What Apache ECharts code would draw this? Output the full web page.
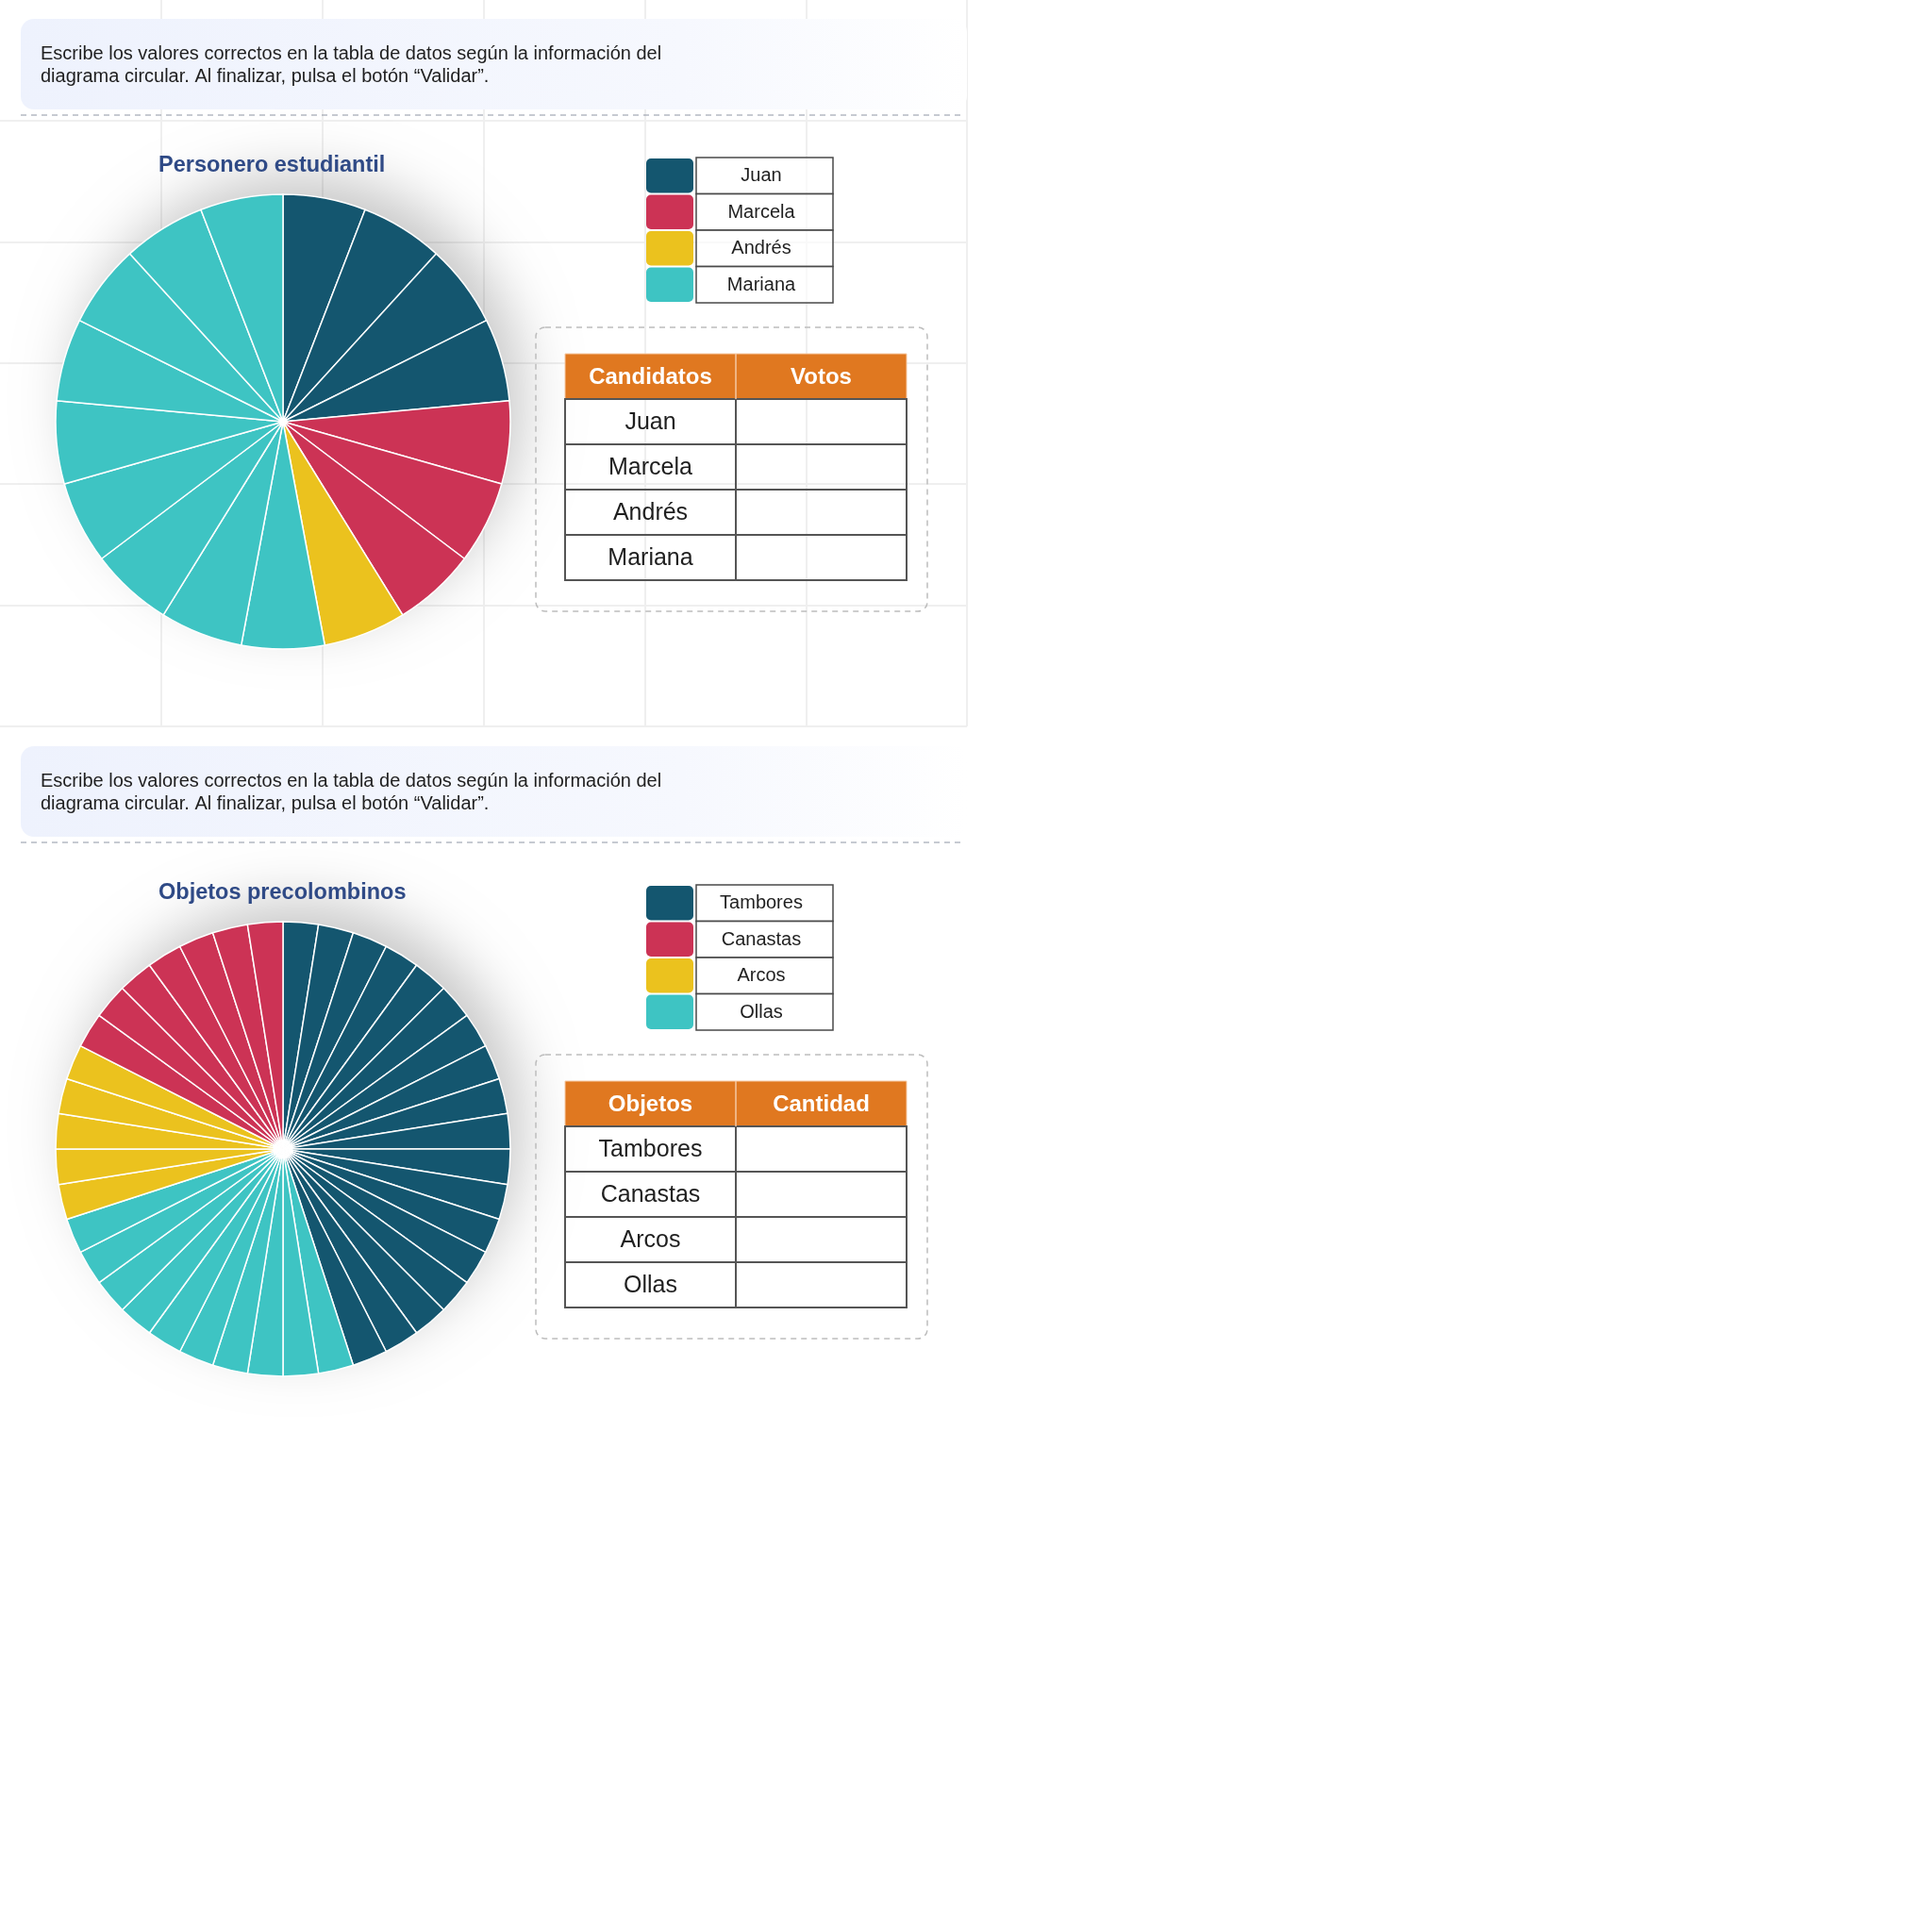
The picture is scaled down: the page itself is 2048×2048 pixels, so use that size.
<!DOCTYPE html>
<html>
<head>
<meta charset="utf-8">
<script src="https://cdn.jsdelivr.net/npm/echarts@6/dist/echarts.min.js"></script>
<style>
  html, body { margin: 0; padding: 0; background: #ffffff; }
  #chart { width: 2048px; height: 2048px; }
</style>
</head>
<body>
<div id="chart"></div>
<script>
// ---------- data ----------
const instructionLines = [
  'Escribe los valores correctos en la tabla de datos según la información del',
  'diagrama circular. Al finalizar, pulsa el botón “Validar”.'
];
const pie1Title = 'Personero estudiantil';
const pie1Categories = ['Juan', 'Marcela', 'Andrés', 'Mariana'];
const pie1Counts = [4, 3, 1, 9];
const pie1SliceOrder = ['Juan', 'Marcela', 'Andrés', 'Mariana'];
const table1Headers = ['Candidatos', 'Votos'];

const pie2Title = 'Objetos precolombinos';
const pie2Categories = ['Tambores', 'Canastas', 'Arcos', 'Ollas'];
const pie2Counts = [18, 7, 5, 10];
const pie2SliceOrder = ['Tambores', 'Ollas', 'Arcos', 'Canastas'];
const table2Headers = ['Objetos', 'Cantidad'];

// ---------- styles ----------
const groupColors = ['#14566f', '#cc3355', '#ebc21e', '#3ec4c3'];
const FONT = '"Liberation Sans", Arial, Helvetica, sans-serif';
const PANEL_SHIFT = 771;

function unitSlices(categories, counts, order) {
  const out = [];
  order.forEach(name => {
    const i = categories.indexOf(name);
    for (let k = 0; k < counts[i]; k++) {
      out.push({ name: name, value: 1, itemStyle: { color: groupColors[i] } });
    }
  });
  return out;
}

function txt(text, x, y, size, opts) {
  opts = opts || {};
  return {
    type: 'text', z: opts.z || 10, silent: true,
    style: {
      text: text, x: x, y: y,
      font: (opts.weight || 'normal') + ' ' + size + 'px ' + FONT,
      fill: opts.fill || '#1f1f1f',
      align: opts.align || 'center', verticalAlign: 'middle'
    }
  };
}

function panelGraphics(dy, title, categories, headers, withGrid) {
  const g = [];
  if (withGrid) {
    const gx = [171, 342, 513, 684, 855, 1025];
    const gy = [128, 257, 385, 513, 642, 770];
    gx.forEach(x => g.push({ type: 'line', z: 0, silent: true,
      shape: { x1: x, y1: 0, x2: x, y2: 770 },
      style: { stroke: '#efefef', lineWidth: 2 } }));
    gy.forEach(y => g.push({ type: 'line', z: 0, silent: true,
      shape: { x1: 0, y1: y, x2: 1025, y2: y },
      style: { stroke: '#efefef', lineWidth: 2 } }));
  }
  // instruction box
  g.push({ type: 'rect', z: 1, silent: true,
    shape: { x: 22, y: 20 + dy, width: 1003, height: 96, r: 14 },
    style: { fill: new echarts.graphic.LinearGradient(0, 0, 1, 0, [
      { offset: 0, color: '#eef2fd' }, { offset: 0.7, color: '#f6f8fe' }, { offset: 1, color: '#ffffff' }]) } });
  g.push(txt(instructionLines[0], 43, 57 + dy, 20, { align: 'left' }));
  g.push(txt(instructionLines[1], 43, 81 + dy, 20, { align: 'left' }));
  g.push({ type: 'line', z: 1, silent: true,
    shape: { x1: 22, y1: 122 + dy, x2: 1022, y2: 122 + dy },
    style: { stroke: '#8e96a4', lineWidth: 1, lineDash: [6, 5] } });
  // title
  g.push(txt(title, 168, 176 + dy, 23.5, { align: 'left', weight: 'bold', fill: '#2f4a86' }));
  // legend
  categories.forEach((c, i) => {
    const y0 = 167 + dy + i * 38.5;
    g.push({ type: 'rect', z: 5, silent: true,
      shape: { x: 685, y: y0 + 1, width: 50, height: 36.5, r: 5 },
      style: { fill: groupColors[i] } });
    g.push({ type: 'rect', z: 5, silent: true,
      shape: { x: 738, y: y0, width: 145, height: 38.5 },
      style: { fill: 'rgba(255,255,255,0.6)', stroke: '#4a4a4a', lineWidth: 1.5 } });
    g.push(txt(c, 807, y0 + 19.5, 20));
  });
  // dashed frame
  g.push({ type: 'rect', z: 3, silent: true,
    shape: { x: 568, y: 347 + dy, width: 415, height: 301, r: 10 },
    style: { fill: 'none', stroke: '#bdbdbd', lineWidth: 1.5, lineDash: [6, 5] } });
  // table header
  g.push({ type: 'rect', z: 5, silent: true,
    shape: { x: 599, y: 375 + dy, width: 362, height: 48 },
    style: { fill: '#e07820', stroke: '#f6c9a3', lineWidth: 1 } });
  g.push({ type: 'line', z: 6, silent: true,
    shape: { x1: 780, y1: 375 + dy, x2: 780, y2: 423 + dy },
    style: { stroke: '#f6c9a3', lineWidth: 1.5 } });
  g.push(txt(headers[0], 689.5, 400 + dy, 24, { weight: 'bold', fill: '#ffffff' }));
  g.push(txt(headers[1], 870.5, 400 + dy, 24, { weight: 'bold', fill: '#ffffff' }));
  // table rows
  categories.forEach((c, i) => {
    const y0 = 423 + dy + i * 48;
    g.push({ type: 'rect', z: 5, silent: true,
      shape: { x: 599, y: y0, width: 181, height: 48 },
      style: { fill: 'none', stroke: '#555555', lineWidth: 2 } });
    g.push({ type: 'rect', z: 5, silent: true,
      shape: { x: 780, y: y0, width: 181, height: 48 },
      style: { fill: 'none', stroke: '#555555', lineWidth: 2 } });
    g.push(txt(c, 689.5, y0 + 25.5, 25));
  });
  return g;
}

function pieSeries(cx, cy, categories, counts, order) {
  return [
    { // soft shadow disc under the pie
      type: 'pie', silent: true, z: 1, center: [cx, cy], radius: 238,
      label: { show: false }, labelLine: { show: false },
      emphasis: { disabled: true }, tooltip: { show: false },
      data: [{ value: 1, name: '', itemStyle: { color: '#ffffff',
        shadowColor: 'rgba(0,0,0,0.22)', shadowBlur: 60, shadowOffsetX: 16, shadowOffsetY: -24 } }]
    },
    {
      type: 'pie', z: 2, center: [cx, cy], radius: 241,
      startAngle: 90, clockwise: true, avoidLabelOverlap: false,
      label: { show: false }, labelLine: { show: false },
      emphasis: { disabled: true },
      itemStyle: { borderColor: '#ffffff', borderWidth: 1.5 },
      data: unitSlices(categories, counts, order)
    }
  ];
}

const chart = echarts.init(document.getElementById('chart'), null, { renderer: 'canvas', width: 2048, height: 2048 });
chart.setOption({
  backgroundColor: '#ffffff',
  animation: false,
  graphic: { elements: panelGraphics(0, pie1Title, pie1Categories, table1Headers, true)
    .concat(panelGraphics(PANEL_SHIFT, pie2Title, pie2Categories, table2Headers, false)) },
  series: pieSeries(300, 447, pie1Categories, pie1Counts, pie1SliceOrder)
    .concat(pieSeries(300, 447 + PANEL_SHIFT, pie2Categories, pie2Counts, pie2SliceOrder))
});
</script>
</body>
</html>
